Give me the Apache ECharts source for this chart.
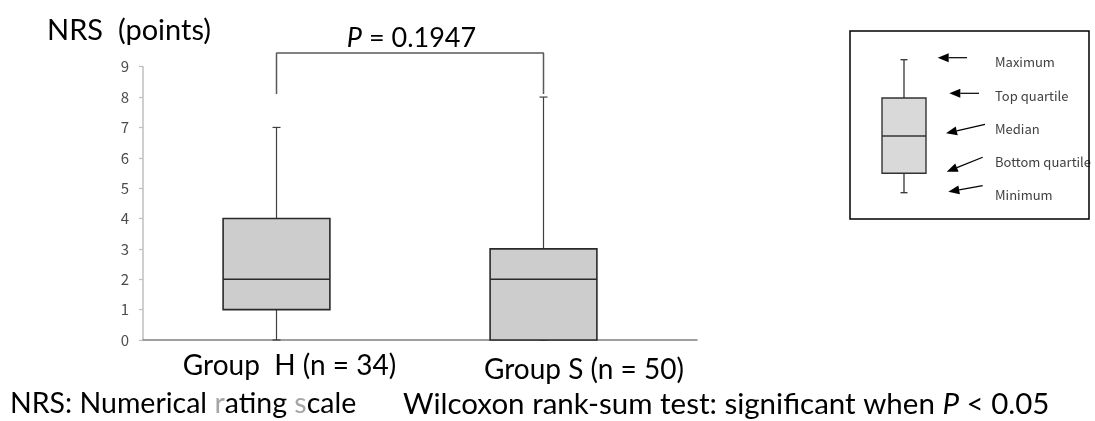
<!DOCTYPE html>
<html><head><meta charset="utf-8">
<script src="https://cdn.jsdelivr.net/npm/echarts@6/dist/echarts.min.js"></script>
<style>html,body{margin:0;padding:0;background:#fff}#c{width:1095px;height:421px}</style>
</head><body><div id="c"></div><script>
// ---- data ----
const categories = ['Group  H (n = 34)', 'Group S (n = 50)'];
// [min, Q1, median, Q3, max]
const boxH = [0, 1, 2, 4, 7];
const boxS = [0, 0, 2, 3, 8];
const yMin = 0, yMax = 9, yInterval = 1;
const bracketBase = 8.1, bracketTop = 9.45;
const pValue = '0.1947';
const legendLabels = ['Maximum', 'Top quartile', 'Median', 'Bottom quartile', 'Minimum'];

const boxData = [[0].concat(boxH), [1].concat(boxS)];
const bracketData = [[0, bracketBase], [0, bracketTop], [1, bracketTop], [1, bracketBase]];

const MAIN_FONT = 'Lato';
const CJK_FONT = '"Noto Sans CJK JP"';

const chart = echarts.init(document.getElementById('c'), null, {renderer: 'canvas'});

function renderBox(params, api) {
  const x = api.value(0);
  const p = [1, 2, 3, 4, 5].map(i => api.coord([x, api.value(i)]));
  const band = api.size([1, 0])[0];
  const hw = band * 0.2;
  const cx = p[0][0];
  const cap = 4;
  const wStyle = {stroke: '#404040', lineWidth: 1.2};
  const bStyle = {stroke: '#2a2a2a', lineWidth: 1.6};
  return {
    type: 'group',
    children: [
      {type: 'line', shape: {x1: cx, y1: p[0][1], x2: cx, y2: p[1][1]}, style: wStyle},
      {type: 'line', shape: {x1: cx, y1: p[3][1], x2: cx, y2: p[4][1]}, style: wStyle},
      {type: 'line', shape: {x1: cx - cap, y1: p[4][1], x2: cx + cap, y2: p[4][1]}, style: wStyle},
      {type: 'line', shape: {x1: cx - cap, y1: p[0][1], x2: cx + cap, y2: p[0][1]}, style: wStyle},
      {type: 'rect', shape: {x: cx - hw, y: p[3][1], width: hw * 2, height: p[1][1] - p[3][1]},
        style: {fill: '#cdcdcd', stroke: '#2a2a2a', lineWidth: 1.6}},
      {type: 'line', shape: {x1: cx - hw, y1: p[2][1], x2: cx + hw, y2: p[2][1]}, style: bStyle}
    ]
  };
}

// legend schematic (explanatory, not data)
function arrow(tail, tip) {
  const dx = tip[0] - tail[0], dy = tip[1] - tail[1];
  const len = Math.sqrt(dx * dx + dy * dy);
  const ux = dx / len, uy = dy / len;
  const hl = 11, hwid = 4.5;
  const bx = tip[0] - ux * hl, by = tip[1] - uy * hl;
  return [
    {type: 'line', shape: {x1: tail[0], y1: tail[1], x2: bx, y2: by}, style: {stroke: '#000', lineWidth: 1.2}},
    {type: 'polygon', shape: {points: [tip, [bx - uy * hwid, by + ux * hwid], [bx + uy * hwid, by - ux * hwid]]},
      style: {fill: '#000'}}
  ];
}
const lgArrows = [
  [[967, 57.7], [937.7, 57.7]],
  [[979, 93.3], [949.3, 93.3]],
  [[985, 124.3], [946, 133.3]],
  [[982.7, 157.3], [946.7, 171.7]],
  [[982.7, 185.7], [948.3, 191.7]]
];
const lgLabelY = [62, 96, 129, 162, 195];
const legendGraphics = [];
legendGraphics.push({type: 'line', shape: {x1: 904, y1: 59.7, x2: 904, y2: 98}, style: {stroke: '#333', lineWidth: 1.3}});
legendGraphics.push({type: 'line', shape: {x1: 904, y1: 173.3, x2: 904, y2: 192.7}, style: {stroke: '#333', lineWidth: 1.3}});
legendGraphics.push({type: 'line', shape: {x1: 900.5, y1: 59.7, x2: 907.5, y2: 59.7}, style: {stroke: '#333', lineWidth: 1.3}});
legendGraphics.push({type: 'line', shape: {x1: 900.5, y1: 192.7, x2: 907.5, y2: 192.7}, style: {stroke: '#333', lineWidth: 1.3}});
legendGraphics.push({type: 'rect', shape: {x: 882, y: 98, width: 44, height: 75.3}, style: {fill: '#d9d9d9', stroke: '#333', lineWidth: 1.4}});
legendGraphics.push({type: 'line', shape: {x1: 882, y1: 136, x2: 926, y2: 136}, style: {stroke: '#333', lineWidth: 1.3}});
lgArrows.forEach(a => arrow(a[0], a[1]).forEach(g => legendGraphics.push(g)));
legendLabels.forEach((t, i) => legendGraphics.push({
  type: 'text', x: 995, y: lgLabelY[i],
  style: {text: t, fill: '#404040', font: '13px ' + CJK_FONT, textVerticalAlign: 'middle'}
}));
legendGraphics.push({type: 'rect', shape: {x: 850, y: 31, width: 239, height: 188}, style: {fill: 'none', stroke: '#000', lineWidth: 1.5}});

const option = {
  animation: false,
  backgroundColor: '#fff',
  grid: [
    {left: 143, width: 534, top: 66.7, bottom: 81},
    {left: 143, width: 554, top: 66.7, bottom: 81}
  ],
  xAxis: [
    {
      type: 'category', gridIndex: 0, data: categories,
      axisLine: {show: false}, axisTick: {show: false}, splitLine: {show: false},
      axisLabel: {
        margin: 12, interval: 0,
        formatter: (v, i) => (i === 0 ? '{a|' : '{b|') + v + '}',
        rich: {
          a: {fontFamily: MAIN_FONT, fontSize: 28, color: '#000', padding: [0, 0, 0, 26]},
          b: {fontFamily: MAIN_FONT, fontSize: 28, color: '#000', padding: [4, 0, 0, 81]}
        }
      }
    },
    {
      type: 'value', gridIndex: 1, min: 0, max: 1,
      axisLine: {show: true, onZero: false, lineStyle: {color: '#808080', width: 1.5}},
      axisTick: {show: false}, axisLabel: {show: false}, splitLine: {show: false}
    }
  ],
  yAxis: [
    {
      type: 'value', gridIndex: 0, min: yMin, max: yMax, interval: yInterval,
      axisLine: {show: true, lineStyle: {color: '#bfbfbf', width: 1.5}},
      axisTick: {show: true, length: 4, lineStyle: {color: '#bfbfbf', width: 1.2}},
      splitLine: {show: false},
      axisLabel: {color: '#4d4d4d', fontSize: 15, fontFamily: CJK_FONT, margin: 14}
    },
    {type: 'value', gridIndex: 1, show: false, min: 0, max: 1}
  ],
  graphic: [
    {type: 'text', x: 47, y: 31, style: {text: 'NRS  (points)', font: '29px ' + MAIN_FONT, fill: '#000', textVerticalAlign: 'middle'}},
    {type: 'text', x: 411.5, y: 38, style: {
      text: '{i|P} = ' + pValue, textAlign: 'center', textVerticalAlign: 'middle',
      rich: {i: {fontFamily: MAIN_FONT, fontSize: 27, fontStyle: 'italic', fill: '#000'}},
      font: '27px ' + MAIN_FONT, fill: '#000'}},
    {type: 'text', x: 10, y: 404, style: {
      text: 'NRS: Numerical {g|r}ating {g|s}cale', textVerticalAlign: 'middle',
      font: '28.5px ' + MAIN_FONT, fill: '#000',
      rich: {g: {fontFamily: MAIN_FONT, fontSize: 28.5, fill: '#a6a6a6'}}}},
    {type: 'text', x: 403, y: 404, style: {
      text: 'Wilcoxon rank-sum test: significant when {i|P} < 0.05', textVerticalAlign: 'middle',
      font: '29.5px ' + MAIN_FONT, fill: '#000',
      rich: {i: {fontFamily: MAIN_FONT, fontSize: 29.5, fontStyle: 'italic', fill: '#000'}}}}
  ].concat(legendGraphics),
  series: [
    {
      type: 'custom', xAxisIndex: 0, yAxisIndex: 0,
      data: boxData, encode: {x: 0, y: [1, 2, 3, 4, 5]},
      renderItem: renderBox, clip: false, silent: true
    },
    {
      type: 'line', xAxisIndex: 0, yAxisIndex: 0, data: bracketData,
      symbol: 'none', clip: false, silent: true,
      lineStyle: {color: '#595959', width: 1.5}
    }
  ]
};
chart.setOption(option);
</script></body></html>
